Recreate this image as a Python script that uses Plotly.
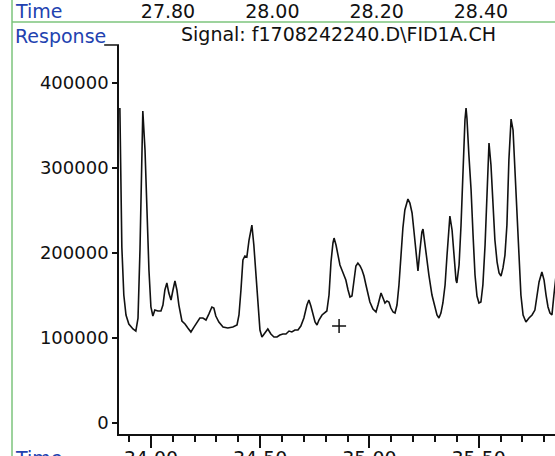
import plotly.graph_objects as go

# FID1A signal, retention time (min) vs response
time_min = [
    33.858, 33.863, 33.867, 33.876, 33.886, 33.899, 33.918, 33.931, 33.941, 33.950,
    33.959, 33.963, 33.973, 33.982, 33.991, 34.000, 34.009, 34.018, 34.032, 34.046,
    34.055, 34.064, 34.073, 34.082, 34.092, 34.101, 34.110, 34.119, 34.128, 34.142,
    34.156, 34.169, 34.183, 34.197, 34.211, 34.224, 34.238, 34.252, 34.265, 34.279,
    34.288, 34.297, 34.311, 34.330, 34.352, 34.375, 34.394, 34.403, 34.412, 34.421,
    34.430, 34.439, 34.449, 34.462, 34.471, 34.481, 34.490, 34.499, 34.508, 34.522,
    34.535, 34.549, 34.563, 34.577, 34.590, 34.604, 34.618, 34.632, 34.645, 34.659,
    34.673, 34.686, 34.700, 34.714, 34.723, 34.732, 34.741, 34.751, 34.760, 34.769,
    34.783, 34.796, 34.805, 34.815, 34.824, 34.833, 34.838, 34.847, 34.856, 34.865,
    34.874, 34.883, 34.892, 34.902, 34.911, 34.920, 34.929, 34.938, 34.947, 34.957,
    34.966, 34.975, 34.984, 34.993, 35.002, 35.016, 35.030, 35.039, 35.048, 35.053,
    35.062, 35.071, 35.080, 35.089, 35.098, 35.108, 35.117, 35.126, 35.135, 35.144,
    35.153, 35.162, 35.172, 35.176, 35.185, 35.195, 35.204, 35.213, 35.222, 35.231,
    35.240, 35.245, 35.254, 35.263, 35.272, 35.286, 35.300, 35.309, 35.318, 35.327,
    35.336, 35.346, 35.355, 35.364, 35.368, 35.378, 35.387, 35.396, 35.400, 35.410,
    35.419, 35.428, 35.437, 35.442, 35.446, 35.455, 35.465, 35.474, 35.483, 35.492,
    35.501, 35.510, 35.519, 35.529, 35.538, 35.547, 35.556, 35.565, 35.574, 35.584,
    35.593, 35.602, 35.611, 35.620, 35.629, 35.638, 35.648, 35.657, 35.666, 35.675,
    35.684, 35.693, 35.703, 35.716, 35.730, 35.744, 35.757, 35.767, 35.776, 35.789,
    35.799, 35.808, 35.817, 35.826, 35.835, 35.844, 35.854, 35.863,
]
response = [
    370600, 285900, 207100, 150600, 127100, 116500, 110600, 108200, 123500, 203500,
    321200, 367100, 321200, 250600, 180000, 136500, 125900, 132900, 131800, 131800,
    138800, 156500, 164700, 152900, 144700, 156500, 167100, 156500, 138800, 120000,
    116500, 111800, 107100, 112900, 118800, 123500, 123500, 121200, 128200, 136500,
    135300, 125900, 118800, 112900, 111800, 112900, 115300, 127100, 156500, 191800,
    196500, 195300, 215300, 232900, 209400, 174100, 132900, 109400, 101200, 105900,
    110600, 104700, 101200, 101200, 103500, 104700, 104700, 108200, 107100, 109400,
    109400, 114100, 123500, 138800, 144700, 137600, 127100, 118800, 115300, 121200,
    127100, 129400, 131800, 150600, 189400, 211800, 217600, 209400, 195300, 185900,
    180000, 172900, 168200, 156500, 148200, 149400, 170600, 184700, 188200, 184700,
    180000, 172900, 162400, 151800, 142400, 134100, 130600, 138800, 149400, 152900,
    147100, 141200, 143500, 142400, 135300, 130600, 129400, 138800, 162400, 197600,
    229400, 250600, 261200, 263500, 258800, 247100, 224700, 197600, 178800, 203500,
    224700, 228200, 209400, 194100, 174100, 150600, 135300, 127100, 123500, 129400,
    141200, 162400, 197600, 232900, 243500, 227100, 194100, 168200, 164700, 185900,
    232900, 303500, 356500, 370600, 358800, 315300, 274100, 221200, 174100, 149400,
    141200, 142400, 162400, 209400, 280000, 329400, 303500, 250600, 215300, 189400,
    176500, 172900, 182400, 197600, 232900, 309400, 357600, 344700, 291800, 238800,
    189400, 150600, 127100, 118800, 123500, 127100, 132900, 148200, 165900, 177600,
    168200, 150600, 136500, 129400, 127100, 150600, 174100, 185900,
]

# "+" cursor mark left on the trace
cursor_time = [34.861]
cursor_resp = [114100]

# second time scale printed along the top edge
top_ticks = [27.80, 28.00, 28.20, 28.40]

signal_title = "Signal: f1708242240.D\\FID1A.CH"

FONT = "DejaVu Sans"
INK = "#111111"
BLUE = "#2242b0"
GREEN = "#7cc47c"

fig = go.Figure()

fig.add_trace(go.Scatter(
    x=time_min, y=response,
    mode="lines",
    line=dict(color=INK, width=1.6),
    showlegend=False,
))
fig.add_trace(go.Scatter(
    x=cursor_time, y=cursor_resp,
    mode="markers",
    marker=dict(symbol="cross-thin", size=10, line=dict(width=1.5, color=INK)),
    showlegend=False,
))
# carrier for the top time axis
fig.add_trace(go.Scatter(
    x=top_ticks, y=[None] * len(top_ticks),
    xaxis="x2", mode="lines", showlegend=False, hoverinfo="skip",
))

# green frame of the printout and the bracket next to "Response"
fig.add_shape(type="line", xref="paper", yref="paper",
              x0=-0.2454, x1=1.0, y0=1.0, y1=1.0,
              line=dict(color=GREEN, width=1.5))
fig.add_shape(type="line", xref="paper", yref="paper",
              x0=-0.2454, x1=-0.2454, y0=1.06, y1=-0.06,
              line=dict(color=GREEN, width=1.5))
fig.add_shape(type="line", xref="paper", yref="paper",
              x0=-0.034, x1=0.0, y0=0.9442, y1=0.9442,
              line=dict(color=INK, width=1.5))

fig.add_annotation(text="Time", xref="paper", yref="paper",
                   x=-0.243, y=1.027, xanchor="left", yanchor="middle",
                   showarrow=False, font=dict(color=BLUE, size=19))
fig.add_annotation(text="Response", xref="paper", yref="paper",
                   x=-0.243, y=0.966, xanchor="left", yanchor="middle",
                   showarrow=False, font=dict(color=BLUE, size=19))
fig.add_annotation(text=signal_title, xref="paper", yref="paper",
                   x=0.5023, y=0.972, xanchor="center", yanchor="middle",
                   showarrow=False, font=dict(color=INK, size=19))
fig.add_annotation(text="Time", xref="paper", yref="paper",
                   x=-0.243, y=-0.027, xanchor="left", yanchor="top",
                   showarrow=False, font=dict(color=BLUE, size=19))

fig.update_layout(
    width=555, height=456,
    margin=dict(l=119, r=0, t=22, b=22, autoexpand=False),
    paper_bgcolor="white",
    plot_bgcolor="white",
    font=dict(family=FONT, size=18, color=INK),
    xaxis=dict(
        range=[33.854, 35.849],
        automargin=False,
        showgrid=False, zeroline=False,
        showline=True, linecolor=INK, linewidth=1.5,
        ticks="outside", ticklen=12, tickwidth=1.5, tickcolor=INK,
        tick0=34, dtick=0.5, tickformat=".2f",
        tickfont=dict(size=19),
        ticklabelstandoff=-6,
        minor=dict(tick0=34, dtick=0.1, ticks="outside", ticklen=6,
                   tickwidth=1.5, tickcolor=INK, showgrid=False),
    ),
    yaxis=dict(
        domain=[0, 0.9442],
        range=[-12900, 444700],
        automargin=False,
        showgrid=False, zeroline=False,
        showline=True, linecolor=INK, linewidth=1.5,
        ticks="outside", ticklen=5, tickwidth=1.5, tickcolor=INK,
        dtick=100000, tickformat="d",
    ),
    xaxis2=dict(
        overlaying="x", side="top", anchor="free", position=1,
        range=[27.706, 28.542],
        automargin=False,
        tickvals=top_ticks, tickformat=".2f",
        tickfont=dict(size=19),
        showgrid=False, zeroline=False, showline=False, ticks="",
    ),
)

# drop the default body margin so the figure sits at the window corner
fig.write_html(
    "out.html",
    config={"displayModeBar": False},
    post_script="document.body.style.margin='0';",
)
